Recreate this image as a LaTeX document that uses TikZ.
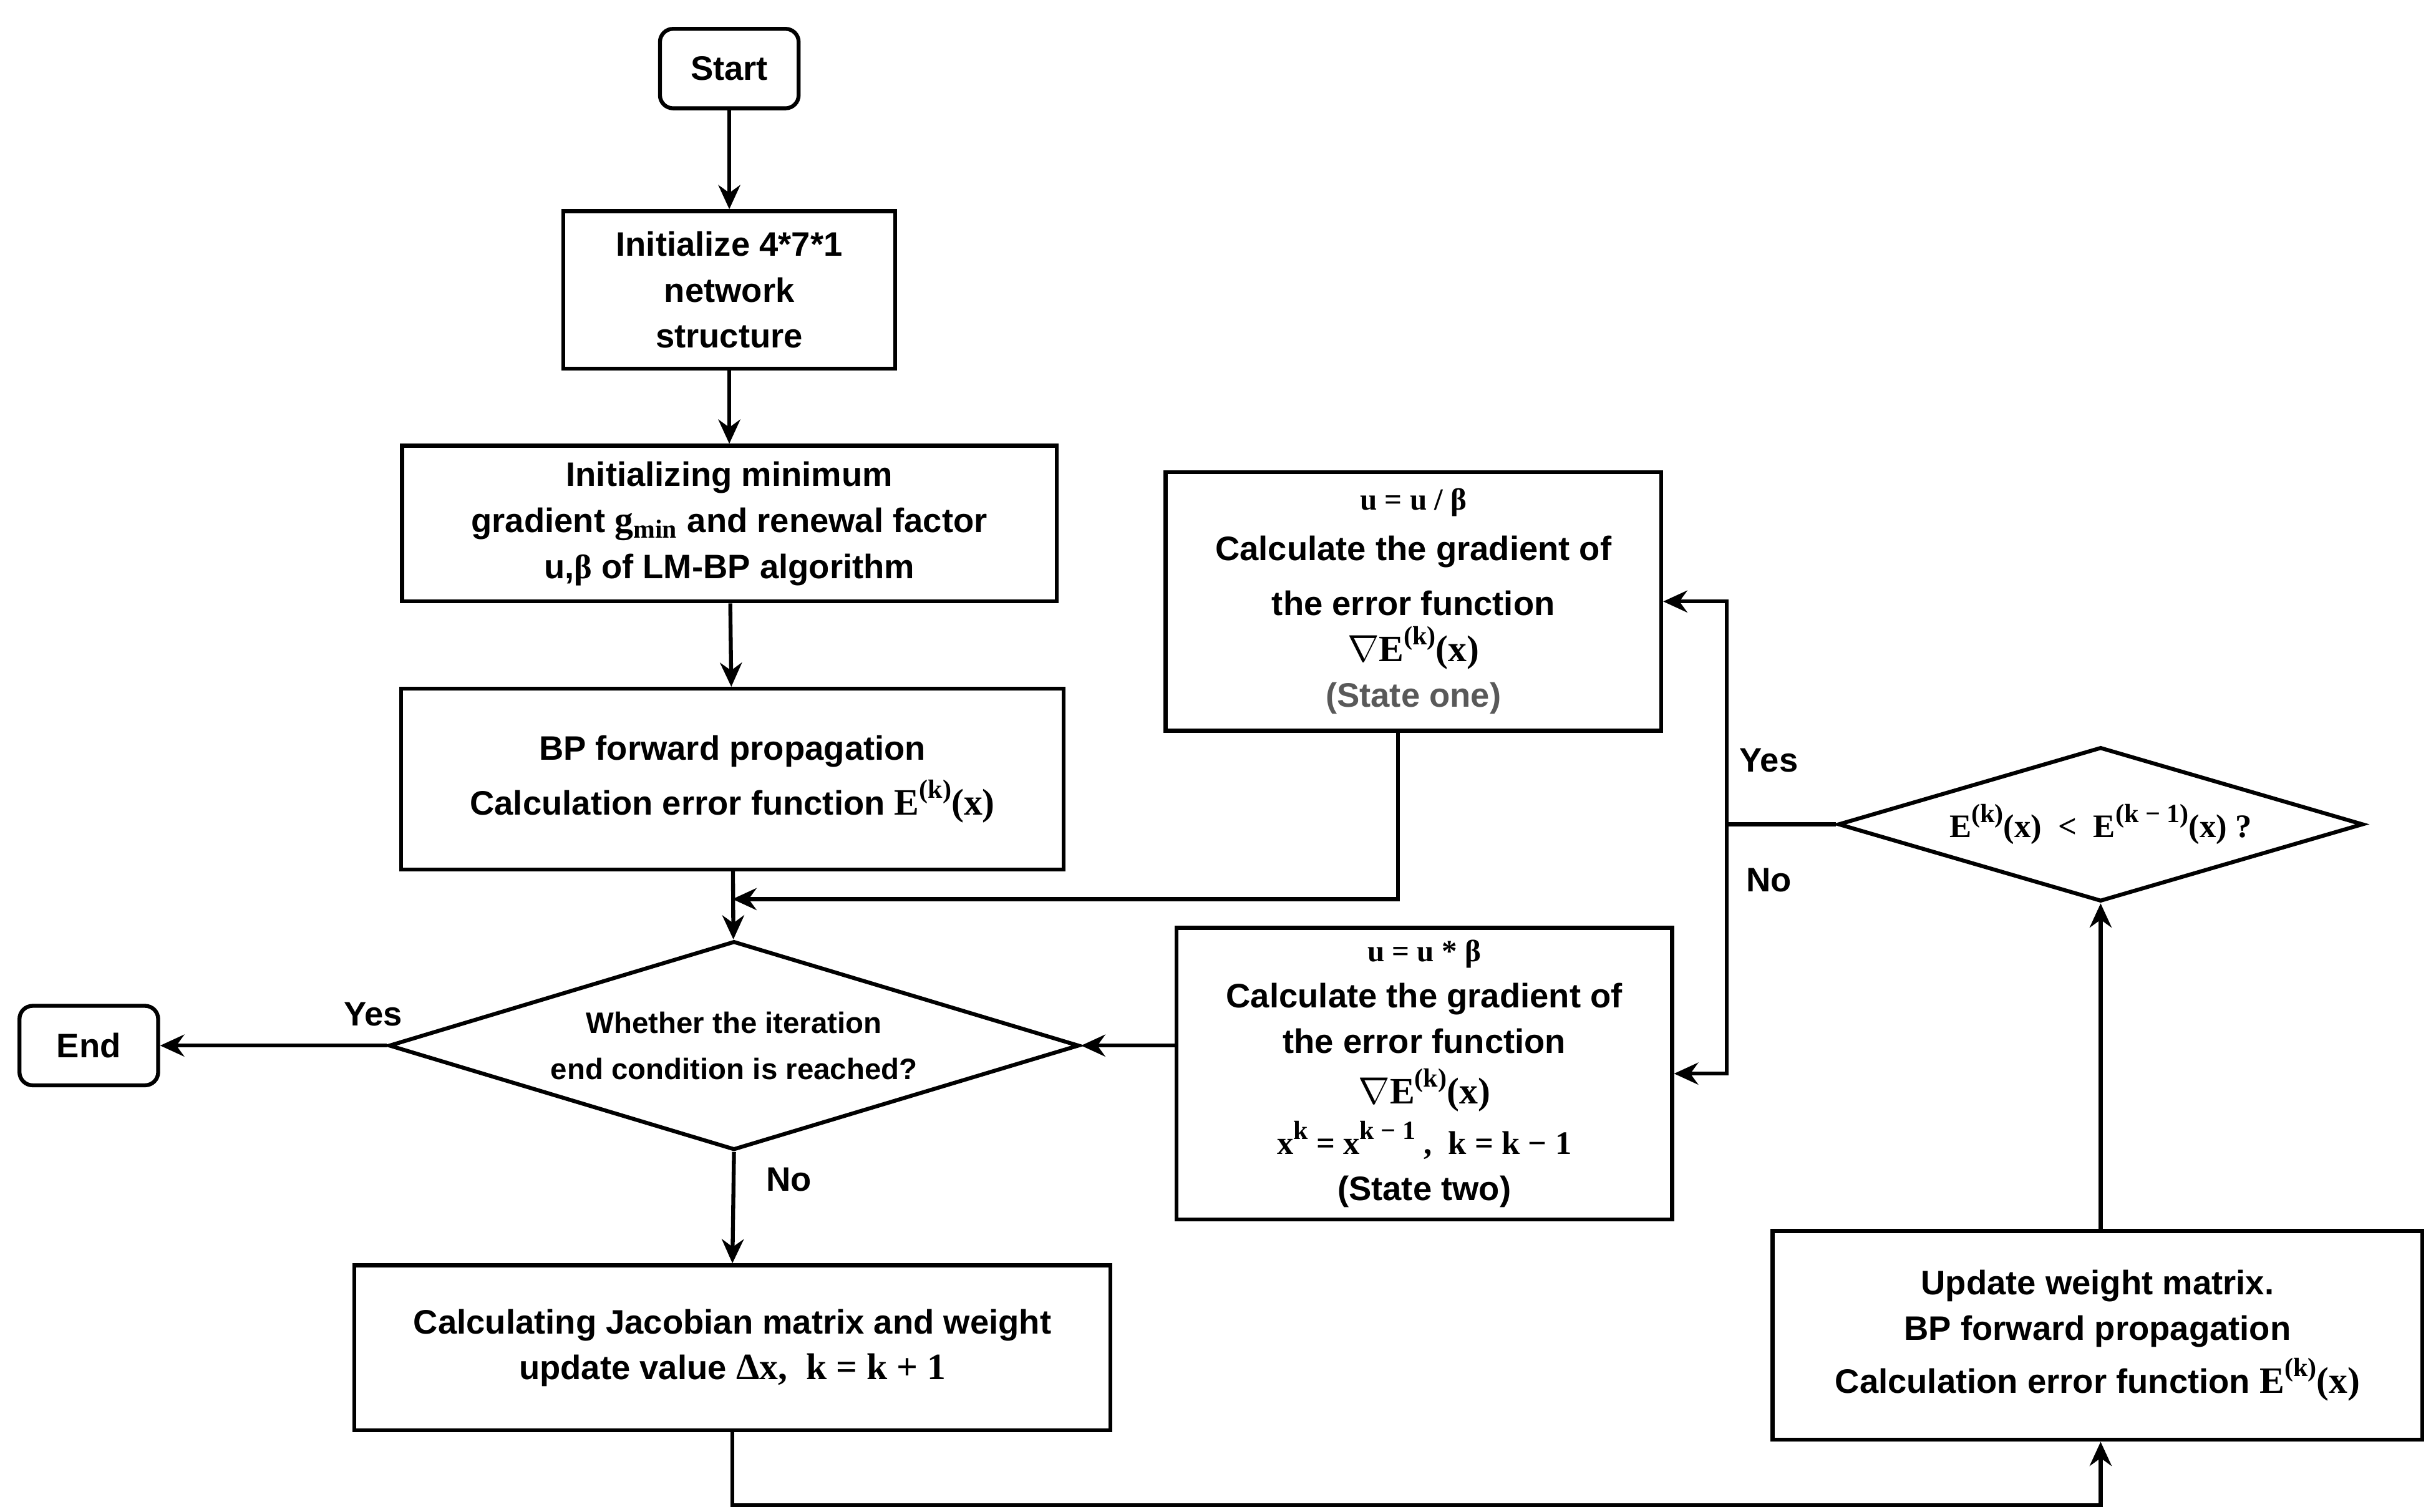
\documentclass[tikz,border=0pt]{standalone}
\usepackage{fontspec}
\setmainfont{Liberation Sans}
\newfontfamily\tms{Liberation Serif}
\newcommand{\sps}[1]{\raisebox{0.45em}{\fontsize{12}{12}\selectfont #1}}
\usetikzlibrary{shapes.geometric,arrows.meta}
\begin{document}
\begin{tikzpicture}[x=0.25mm,y=-0.25mm,
  font=\fontsize{15.5}{21}\selectfont\bfseries,
  every node/.style={align=center,inner sep=0pt},
  box/.style n args={2}{draw,line width=1.8pt,minimum width=#1*0.25mm,minimum height=#2*0.25mm},
  rbox/.style n args={2}{box={#1}{#2},rounded corners=6pt},
  dia/.style n args={3}{draw,line width=1.8pt,diamond,aspect=#3,minimum width=#1*0.25mm,minimum height=#2*0.25mm},
  arr/.style={line width=1.8pt,-{Stealth[length=11pt,width=10pt]}},
  ln/.style={line width=1.8pt}]
\useasboundingbox (0,0) rectangle (1560,970);
\node[rbox={89}{51}] (start) at (468,44) {Start};
\node[box={213}{101}] (init) at (468,186) {Initialize 4*7*1\\network\\structure};
\node[box={420}{100}] (init2) at (468,336) {Initializing minimum\\gradient {\tms\fontsize{17}{21}\selectfont g\textsubscript{min}} and renewal factor\\u,{\tms β} of LM-BP algorithm};
\node[box={425}{116}] (bp) at (470,500) {BP forward propagation\\[4pt]Calculation error function {\tms\fontsize{17}{21}\selectfont E\sps{(k)}(x)}};
\node[dia={443}{134}{3.3}] (d1) at (471,671) {\fontsize{13.5}{20}\selectfont Whether the iteration\\\fontsize{13.5}{20}\selectfont end condition is reached?};
\node[rbox={89}{51}] (end) at (57,671) {End};
\node[box={485}{106}] (jac) at (470,865) {Calculating Jacobian matrix and weight\\update value {\tms\fontsize{17}{21}\selectfont Δx,\ \ k = k + 1}};
\node[box={318}{166}] (s1) at (907,386) {{\tms\fontsize{14}{18}\selectfont u = u / β}\\[2pt]Calculate the gradient of\\[4pt]the error function\\{\tms\fontsize{17}{21}\selectfont $\nabla$E\sps{(k)}(x)}\\{\color{black!65}(State one)}};
\node[box={318}{187}] (s2) at (914,689) {{\tms\fontsize{14}{18}\selectfont u = u * β}\\Calculate the gradient of\\the error function\\[2pt]{\tms\fontsize{17}{21}\selectfont $\nabla$E\sps{(k)}(x)}\\[2pt]{\tms\fontsize{15}{21}\selectfont x\sps{k} = x\sps{k − 1}\ ,\ \ k = k − 1}\\(State two)};
\node[dia={337}{99}{3.4}] (d2) at (1348,529) {\tms\fontsize{15}{21}\selectfont E\sps{(k)}(x)\ \ <\ \ E\sps{(k − 1)}(x) ?};
\node[box={417}{134}] (up) at (1346,857) {Update weight matrix.\\BP forward propagation\\[3pt]Calculation error function {\tms\fontsize{17}{21}\selectfont E\sps{(k)}(x)}};
\coordinate (m1) at (470,577);
\coordinate (sp) at (1108,529);
\draw[arr] (start) -- (init);
\draw[arr] (init) -- (init2);
\draw[arr] (init2) -- (bp);
\draw[arr] (bp) -- (d1);
\draw[arr] (s1.south -| 897,0) |- (m1);
\draw[arr] (s2.west |- d1) -- (d1.east);
\draw[arr] (d1.west) -- node[above=8pt,pos=0.06]{Yes} (end.east);
\draw[arr] (d1.south) -- node[right=14pt,pos=0.25]{No} (jac.north);
\draw[arr] (jac.south) -- (470,966) -| (up.south -| 1348,0);
\draw[arr] (up.north -| 1348,0) -- (d2.south);
\draw[ln] (d2.west) -- (sp);
\draw[arr] (sp) |- (s1.east);
\draw[arr] (sp) |- (s2.east |- 0,689);
\node at (1135,488) {Yes};
\node at (1135,565) {No};
\end{tikzpicture}
\end{document}
